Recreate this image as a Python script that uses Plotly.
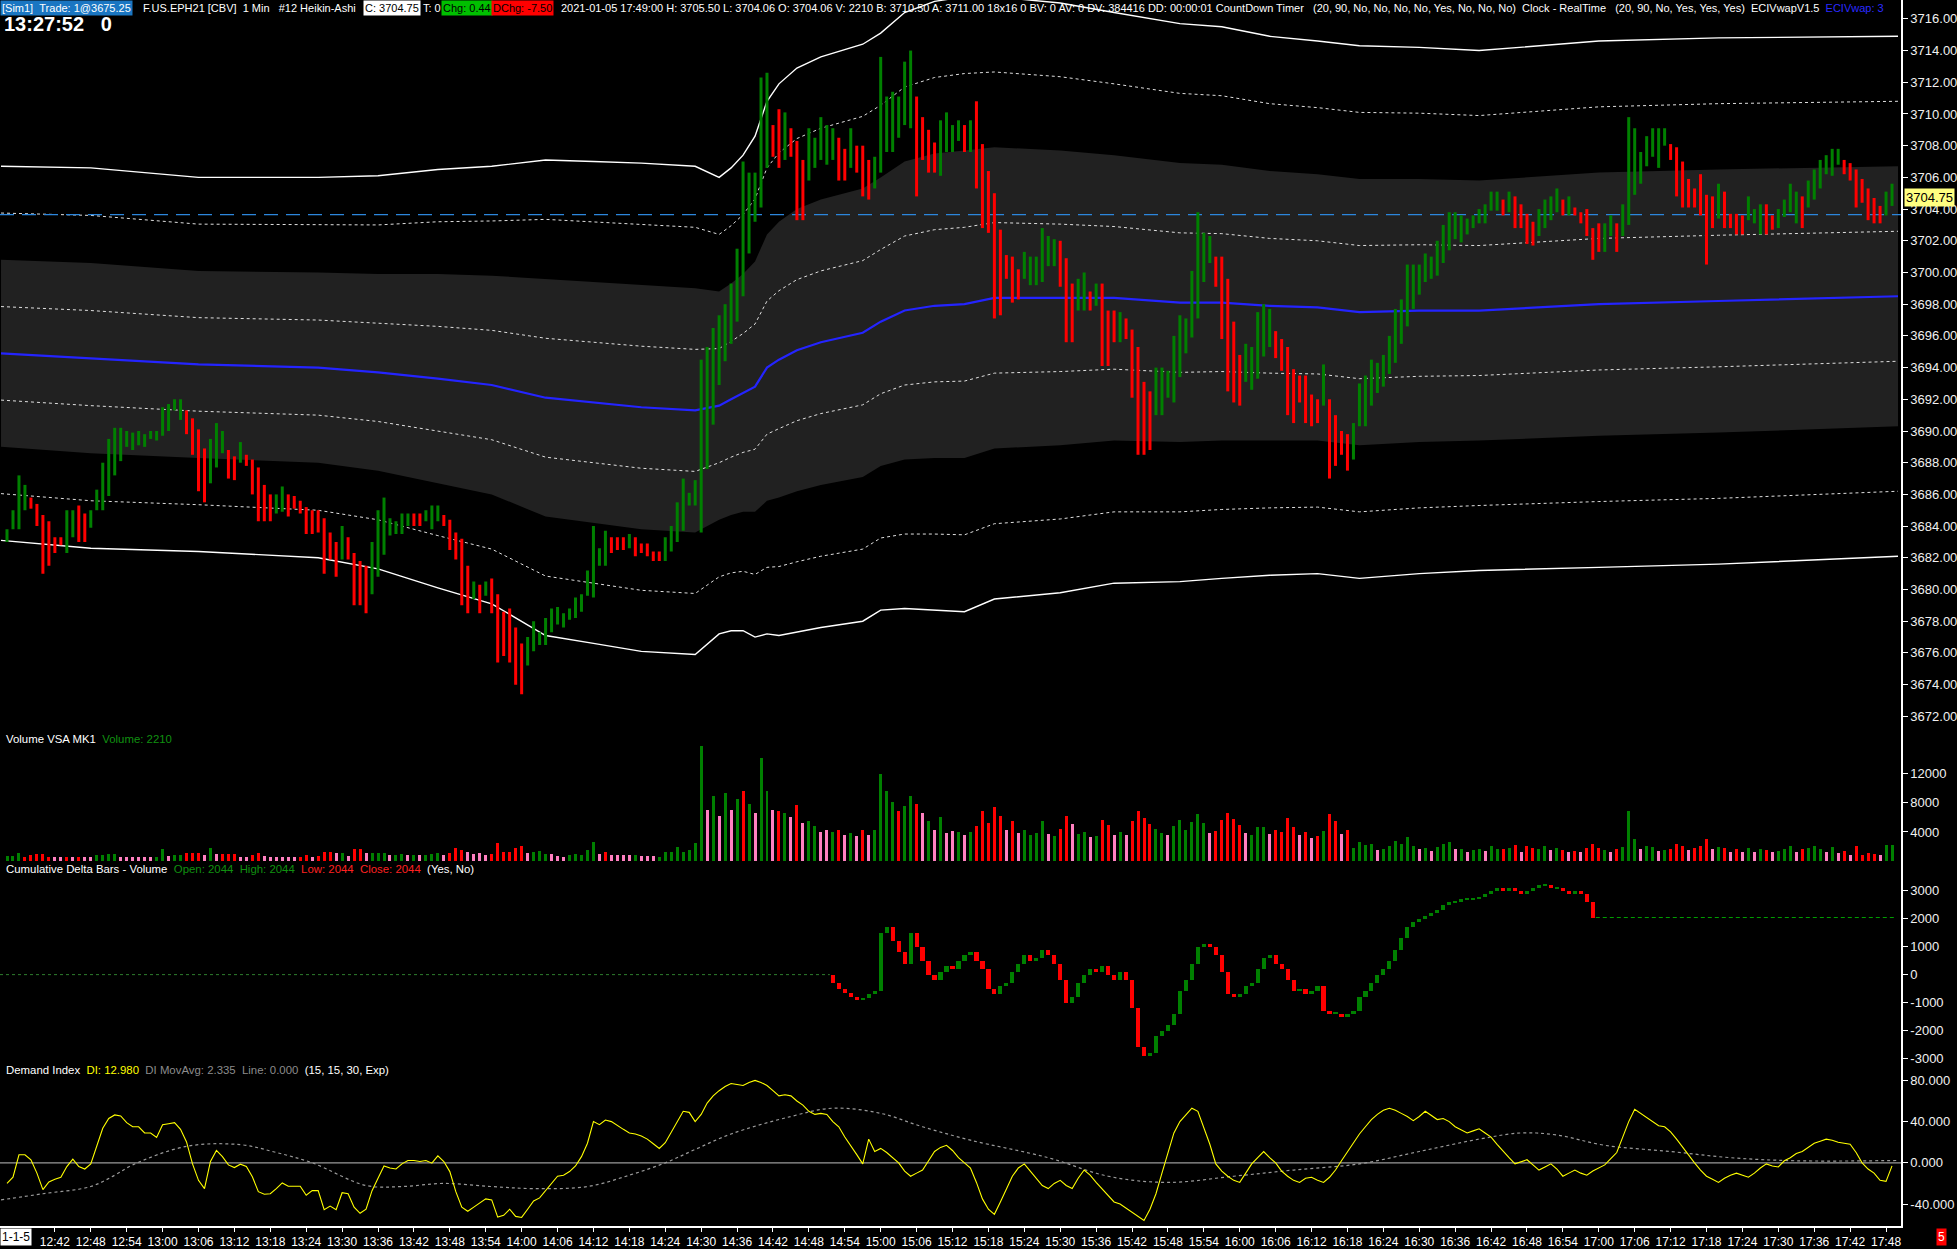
import plotly.graph_objects as go
from plotly.subplots import make_subplots

# ---------------- data ----------------
first_bar = "12:34"

price_high = [
3683.8,3685.0,3687.2,3686.6,3685.8,3685.4,3684.7,3684.3,3683.3,3683.3,
3685.0,3685.0,3685.3,3684.8,3685.0,3686.3,3688.0,3689.5,3690.2,3690.2,
3690.0,3689.9,3690.0,3689.8,3690.0,3690.0,3691.5,3691.7,3692.0,3692.0,
3691.3,3690.8,3690.1,3688.9,3689.5,3690.5,3690.0,3688.8,3688.4,3689.3,
3688.5,3688.2,3687.7,3686.6,3686.0,3686.0,3686.5,3686.0,3685.9,3685.6,
3685.2,3685.0,3685.0,3684.5,3683.6,3683.0,3684.0,3683.3,3682.3,3681.8,
3681.5,3683.0,3685.0,3685.8,3684.5,3684.3,3684.8,3684.8,3684.8,3684.8,
3685.0,3685.3,3685.3,3684.7,3684.4,3683.6,3683.2,3681.5,3680.5,3680.3,
3680.5,3680.7,3679.7,3678.6,3678.8,3677.6,3676.6,3677.0,3678.0,3677.3,
3678.2,3678.8,3678.9,3678.5,3678.8,3679.5,3679.7,3681.2,3684.0,3682.6,
3683.7,3683.3,3683.3,3683.3,3683.5,3683.3,3682.9,3682.9,3682.4,3682.4,
3683.3,3684.0,3685.5,3687.0,3686.1,3686.9,3694.5,3695.3,3696.5,3697.3,
3698.0,3699.3,3701.5,3707.0,3706.3,3706.3,3712.3,3712.6,3709.3,3710.3,
3710.1,3709.1,3708.3,3707.1,3709.1,3708.5,3709.8,3709.3,3709.1,3708.5,
3707.8,3709.1,3708.0,3708.0,3707.1,3707.3,3713.6,3711.1,3711.4,3711.1,
3713.3,3714.0,3711.1,3709.8,3709.0,3708.2,3709.6,3710.1,3709.3,3709.6,
3709.3,3709.6,3710.8,3708.1,3706.4,3705.0,3702.7,3701.1,3701.0,3700.2,
3701.3,3701.0,3701.0,3702.8,3702.3,3702.1,3702.0,3700.9,3699.3,3699.6,
3700.0,3698.8,3699.3,3699.3,3697.6,3697.6,3697.5,3697.1,3696.4,3695.3,
3693.1,3692.5,3694.0,3694.0,3693.8,3696.0,3697.3,3697.1,3700.1,3703.8,
3702.5,3702.3,3701.0,3701.0,3699.6,3696.9,3694.8,3695.5,3695.3,3697.5,
3698.0,3697.7,3696.3,3695.8,3695.3,3693.9,3693.5,3693.5,3692.3,3692.0,
3694.2,3692.0,3691.0,3690.0,3689.8,3690.5,3693.0,3693.5,3694.5,3694.3,
3694.8,3696.0,3697.7,3698.3,3700.5,3700.5,3700.5,3701.2,3701.0,3702.0,
3703.0,3703.8,3703.8,3703.6,3703.4,3703.6,3704.0,3704.3,3705.1,3705.1,
3704.6,3705.1,3704.8,3704.3,3703.7,3703.2,3704.0,3704.6,3704.8,3705.3,
3704.6,3704.8,3704.1,3703.8,3704.0,3702.8,3703.1,3703.1,3703.6,3703.1,
3704.3,3709.8,3709.1,3707.6,3708.6,3709.1,3709.1,3709.1,3708.1,3707.9,
3707.0,3705.9,3705.3,3706.2,3704.9,3704.8,3705.6,3705.1,3703.7,3703.7,
3703.6,3704.8,3704.0,3704.3,3704.3,3703.6,3704.0,3704.6,3705.6,3705.1,
3704.8,3705.8,3706.5,3707.1,3707.4,3707.8,3707.8,3707.1,3706.9,3706.5,
3705.9,3705.3,3704.7,3704.2,3705.1,3705.6]

price_low = [
3683.0,3683.8,3683.8,3685.0,3685.1,3684.0,3681.0,3681.5,3682.3,3682.8,
3682.3,3683.3,3683.0,3683.0,3683.9,3685.0,3685.0,3685.9,3687.2,3688.1,
3689.0,3688.8,3689.1,3689.0,3689.5,3689.4,3689.7,3690.0,3691.3,3690.7,
3689.8,3688.5,3686.2,3685.5,3686.7,3687.7,3688.6,3687.0,3686.9,3688.0,
3687.8,3686.0,3684.3,3684.3,3684.3,3684.8,3684.9,3684.6,3685.1,3684.8,
3683.5,3683.5,3683.6,3681.0,3681.9,3680.8,3681.9,3681.9,3679.0,3679.0,
3678.5,3679.7,3680.8,3682.2,3683.4,3683.5,3683.5,3684.0,3684.0,3684.0,
3684.3,3683.8,3684.3,3684.0,3682.5,3681.9,3679.0,3678.5,3679.4,3678.5,
3679.6,3678.5,3675.4,3675.8,3675.4,3674.0,3673.4,3675.2,3676.1,3676.5,
3676.5,3677.3,3677.8,3677.6,3678.1,3678.2,3678.6,3679.6,3679.5,3681.5,
3681.5,3682.3,3682.5,3682.5,3682.6,3682.1,3682.3,3682.1,3681.8,3681.8,
3681.8,3682.4,3683.0,3683.7,3685.3,3685.3,3683.6,3687.6,3690.4,3692.9,
3694.4,3695.5,3696.9,3698.5,3701.2,3703.2,3704.1,3706.6,3707.3,3706.6,
3707.1,3707.3,3703.3,3703.3,3705.8,3706.6,3707.1,3706.8,3707.1,3705.8,
3705.8,3706.6,3706.3,3704.8,3704.6,3705.3,3706.3,3707.6,3707.6,3708.5,
3709.3,3709.1,3704.8,3707.1,3706.3,3706.3,3706.1,3707.6,3707.6,3708.3,
3707.6,3707.6,3705.3,3702.8,3702.5,3697.1,3697.3,3699.6,3698.1,3698.3,
3699.6,3699.2,3699.2,3699.4,3700.4,3700.4,3699.1,3695.6,3695.6,3697.6,
3697.6,3697.6,3697.9,3694.1,3694.1,3695.6,3695.6,3695.8,3692.1,3688.5,
3688.5,3688.8,3691.0,3691.0,3692.1,3691.8,3693.4,3694.9,3695.9,3697.1,
3699.4,3700.6,3699.1,3695.8,3692.5,3691.8,3691.6,3693.1,3692.6,3693.3,
3694.7,3695.3,3694.6,3693.8,3691.0,3690.5,3691.8,3690.5,3690.3,3690.5,
3691.6,3687.0,3687.8,3688.5,3687.5,3688.2,3690.3,3690.3,3691.6,3692.4,
3692.8,3693.6,3694.3,3695.5,3696.6,3697.7,3698.6,3699.4,3699.6,3699.8,
3700.6,3701.4,3702.1,3701.9,3702.4,3702.8,3703.1,3703.1,3703.9,3703.9,
3703.6,3703.8,3702.8,3702.8,3701.8,3701.7,3702.3,3702.8,3703.3,3703.8,
3703.6,3703.6,3703.6,3703.1,3702.3,3700.8,3701.3,3701.3,3702.3,3701.3,
3702.3,3703.0,3704.9,3705.6,3706.7,3707.3,3706.6,3708.0,3707.1,3704.8,
3704.1,3704.1,3704.1,3703.6,3700.5,3702.8,3703.4,3702.8,3702.8,3702.4,
3702.4,3703.3,3703.1,3702.4,3702.4,3702.7,3702.8,3703.5,3703.8,3703.1,
3702.8,3704.1,3704.6,3705.3,3706.2,3706.1,3706.8,3706.2,3705.8,3704.1,
3704.4,3703.3,3703.1,3703.1,3703.6,3704.2]

price_dir = ("GGGGRRRRRR" "GGRRGGGGGG" "GGGGGGGGGG" "RRRRGGGRRG" "RRRRRGGRRR"
             "RRRRRRGRRR" "RGGGGGGGRR" "GGGRRRRRGR" "GRRRRRRGGG" "GGGGGGGGGG"
             "GRRRGRRRRR" "GGGGGGGGGG" "GGGGGGGGRR" "GRRRGGGGGR" "RGRRRGGGGG"
             "GGRRRRGGGG" "RGRRRRRRRR" "GGGGGGRRRG" "GRGRRRGRRR" "RRGGGGGGGG"
             "GGRRRRRGGG" "GGRRRRRRRR" "GRRRRGGGGG" "GGGGGGGGGG" "GGGGGGGGGG"
             "RGRRRRGGGG" "RGRRRRRGGR" "GGGGGGGGRR" "RRRRRRGRRR" "RGGGRRGGGG"
             "RGGGGGGRRR" "RRRRGG")

volume = [
770,770,1130,630,860,950,950,630,500,500,
630,630,630,500,630,860,860,950,950,630,
630,630,630,630,630,630,1630,770,860,860,
1080,1130,1130,860,1760,950,950,950,950,630,
630,860,1080,770,630,630,630,500,540,630,
860,540,720,1310,1270,1080,1080,720,1630,1630,
1080,1130,1130,1130,860,860,950,860,860,860,
860,1040,1130,860,1130,1760,1540,1220,950,1080,
860,950,2440,1220,1270,1760,2130,1080,1220,1450,
950,950,720,630,860,950,860,1540,2580,1040,
1220,860,860,860,860,860,720,720,720,630,
1220,1310,1990,1310,1500,2500,15700,7000,8800,6200,
9200,7000,8500,9600,7800,6500,14000,9500,7000,6800,
6500,6000,7600,5200,5500,4800,4000,4200,3900,4300,
3600,3800,3400,4200,3500,4200,11800,9600,8000,6800,
7500,8800,7800,6500,5500,4300,6000,3800,4100,3900,
3600,3900,4800,6800,5200,7400,6200,4200,5400,3800,
4300,3600,3800,5500,3700,3400,4400,6200,5100,3700,
3900,3300,3400,5600,4900,3600,3900,3500,5400,6800,
5900,5100,4400,3800,3500,4800,5600,4200,5300,6400,
5200,3800,4100,5600,6600,5700,4900,3800,3600,4700,
4600,3700,4300,4000,5800,4600,3500,3900,3200,3400,
4100,6400,5500,3700,4300,1800,2600,2200,2300,1500,
1700,2000,2800,2300,3300,2000,1600,1800,1400,1900,
2400,2600,1600,1700,1300,1500,1700,1400,2000,1700,
1600,1800,2200,1300,2000,1800,1700,2000,1500,1800,
1500,1300,1400,1200,1800,2400,1800,1500,1200,1600,
1900,6800,3000,1600,2100,1900,1400,1500,1700,2400,
2100,1500,1800,2000,3000,1600,1900,1800,1300,1700,
1200,1800,1200,1600,1500,1200,1400,1600,2000,1300,
1600,1800,2100,1700,1200,1900,1100,1400,900,2000,
900,1100,1000,900,2200,2210]

volume_dir = ("GGGRRRRRPP" "RPRPPGGGGP" "PPPPPGGPGG" "RRRPGPRRRP" "PRRPPPPPPR"
              "RPRRRPGPRR" "PGGGPGGPGP" "GGGPRRRPPP" "PRRRRRRPGG" "GPPPGGGGGP"
              "RPPPPGPPPG" "GGGGGGGPGP" "GPGRGPGGPR" "GPRPGGPPGR" "PGPRPGGGGR"
              "GGRPGPGPPG" "PGRRRRRPRP" "GGGGPGRRPG" "GPGRRPGPRR" "RRGGPGGGGG"
              "GPRRRRRPGG" "GPRRRRPRPR" "GRRPRGGGGP" "GGGGGGPGPG" "GGPGPGGPGG"
              "RGRPRRGGPG" "RPRPRRRGPR" "GGGPGGPGRR" "RPRRRPGRPR" "PGPGRPGGGP"
              "RGGGPGPRPR" "RRRPGG")

demand_index = [
-20,-14,7.8,7.8,2.9,-10,-26,-18.5,-16,-14,
-3.6,3.6,-3.6,-6,-1,16,33.5,43,46.5,45.5,
39,35,35,29,29,24.7,37,38,39,32.5,
20.3,-1,-17,-25,1.3,12,6,-2,-4.6,-1.3,
-3.6,-13.5,-28,-30.5,-30,-25,-19.5,-22.7,-22.7,-22.7,
-31.5,-27,-27,-45.5,-42,-45.5,-29,-30,-43,-49,
-45,-27,-15,-3,-5,-6,-1,2.3,2.3,1.3,
2.3,-0.3,6.8,1.3,-8.5,-28,-43,-47,-43,-39,
-35,-36,-52.7,-51,-45,-52,-53,-45,-37,-34,
-27,-21,-13,-12,-8.5,-3,6,19,40,37,
41.5,40,36,32.5,29,28,26,23,18.5,14,
19.5,30,41,50,49,40,47,58,65,70,
74,77,76,75,78,80,78,75,70,65,
66,65,60,56,50,47,48,47,40,35,
25,17,8,-1,23,11,14,10,5,0,
-8,-13,-10,-7,2,11,15,17,12,5,
0,-5,-19,-35,-45,-50,-38,-25,-13,-5,
-1,-8,-15,-22,-25,-20,-17,-22,-25,-15,
-7,-12,-19,-25,-31,-38,-40,-44,-48,-52,
-56,-45,-30,-10,10,29,40,47,53,50,
35,18,-1,-8,-13,-17,-19,-10,-1,5,
11,5,0,-8,-13,-17,-19,-15,-14,-17,
-19,-14,-7,2,11,20,28,35,42,47,
51,53,51,48,45,41,45,50,46,42,
43,40,35,32,29,31,33,29,25,18,
11,5,-1,1,3,-2,-7,-4,-1,-6,
-13,-10,-7,-10,-12,-8,-5,-2,4,10,
25,40,52,48,44,40,36,35,30,23,
15,8,0,-7,-13,-16,-19,-15,-12,-10,
-12,-14,-10,-5,-1,-3,-4,2,5,9,
11,15,19,21,23,22,20,19,18,10,
0,-6,-10,-17,-18,-3,13]

di_avg_times = ["12:33","12:40","12:48","12:52","12:55","13:04","13:13","13:19","13:25",
                "13:34","13:40","13:47","13:55","14:02","14:11","14:18","14:24","14:29",
                "14:35","14:45","14:52","15:00","15:07","15:15","15:28","15:38","15:48",
                "15:59","16:09","16:20","16:30","16:40","16:47","16:53","17:01","17:12",
                "17:22","17:33","17:50"]
di_avg_values = [-36,-30,-23,-12,-2,16,17.6,10,0,-22,-23,-20,-23,-25,-23,-12,0,13,
                 28,45,53,48,35,22,5,-13,-19,-13,-7,-1,11,23,29,27,17,11,5,2,2.3]

cd_first_bar = "14:52"
cd_close = [
-300,-500,-650,-800,-900,-850,-700,-600,1500,1700,
1200,800,400,1500,1000,500,0,-200,100,300,
200,500,700,800,500,200,-500,-700,-400,-300,
100,400,700,500,600,900,700,400,-200,-1000,
-800,-300,0,200,100,300,0,-200,100,-200,
-1200,-2600,-2900,-2800,-2200,-2000,-1800,-1400,-600,-200,
400,1000,1100,1000,700,100,-700,-800,-700,-400,
-300,200,600,700,400,200,-200,-600,-500,-700,
-600,-400,-1300,-1400,-1400,-1500,-1400,-1300,-800,-600,
-300,0,200,500,900,1300,1700,1900,2000,2100,
2200,2300,2500,2600,2600,2700,2700,2700,2800,2900,
3000,3100,3000,3100,3000,2900,3000,3100,3200,3200,
3100,3100,3000,2900,3000,2900,2600,2044]
cd_last = 2044

band_times = ["12:33","12:48","13:06","13:26","13:36","13:46","13:55","14:04","14:12",
              "14:20","14:29","14:33","14:35","14:37","14:39","14:41","14:43","14:46",
              "14:50","14:57","15:00","15:04","15:09","15:14","15:19","15:30","15:39",
              "15:50","15:57","16:05","16:13","16:20","16:30","16:40","17:00","17:20","17:50"]
vwap_values = [3694.9,3694.6,3694.2,3694.0,3693.7,3693.3,3692.9,3692.1,3691.8,
               3691.5,3691.3,3691.6,3692.0,3692.4,3692.8,3694.0,3694.5,3695.1,
               3695.6,3696.2,3696.9,3697.6,3697.9,3698.0,3698.4,3698.4,3698.4,
               3698.1,3698.1,3697.9,3697.8,3697.5,3697.6,3697.6,3698.0,3698.2,3698.5]
sigma_values = [2.95,3.0,2.95,3.0,3.1,3.3,3.45,3.75,3.8,
                3.85,3.85,3.6,3.65,3.75,3.95,4.2,4.35,4.45,
                4.5,4.55,4.55,4.7,4.8,4.85,4.75,4.65,4.5,
                4.4,4.35,4.25,4.2,4.2,4.15,4.1,4.15,4.15,4.1]
ref_price = 3703.65
last_price = 3704.75

price_ticks = [3672,3674,3676,3678,3680,3682,3684,3686,3688,3690,3692,3694,3696,
               3698,3700,3702,3704,3706,3708,3710,3712,3714,3716]
vol_ticks = [4000, 8000, 12000]
cd_ticks = [-3000, -2000, -1000, 0, 1000, 2000, 3000]
di_ticks = [-40, 0, 40, 80]
time_labels = ["12:42","12:48","12:54","13:00","13:06","13:12","13:18","13:24","13:30",
               "13:36","13:42","13:48","13:54","14:00","14:06","14:12","14:18","14:24",
               "14:30","14:36","14:42","14:48","14:54","15:00","15:06","15:12","15:18",
               "15:24","15:30","15:36","15:42","15:48","15:54","16:00","16:06","16:12",
               "16:18","16:24","16:30","16:36","16:42","16:48","16:54","17:00","17:06",
               "17:12","17:18","17:24","17:30","17:36","17:42","17:48"]

# ---------------- helpers ----------------
def mins(s):
    h, m = s.split(":")
    return int(h) * 60 + int(m)

W, H = 1957, 1249
ML, MR, MT, MB = 0, 51, 0, 20
PW, PH = W - ML - MR, H - MT - MB
def pyf(y):
    return 1 - y / PH
def pxf(x):
    return x / PW

FONT = "Liberation Sans, Arial, sans-serif"
GREEN, RED, PINK = "#008000", "#ff0000", "#ff80c0"
XR = [752.83, 1070.5]

x0 = mins(first_bar)
bars_x = [x0 + i for i in range(len(price_high))]

fig = make_subplots(rows=4, cols=1, shared_xaxes=True, vertical_spacing=0)

# ---- price panel: VWAP bands ----
bx = [mins(t) for t in band_times]
def band(k):
    return [v + k * s for v, s in zip(vwap_values, sigma_values)]

fig.add_trace(go.Scatter(x=bx, y=band(2), mode="lines", line=dict(width=0, color="#212121"),
                         hoverinfo="skip", showlegend=False), row=1, col=1)
fig.add_trace(go.Scatter(x=bx, y=band(-2), mode="lines", line=dict(width=0, color="#212121"),
                         fill="tonexty", fillcolor="#212121", hoverinfo="skip", showlegend=False),
              row=1, col=1)
for k in (1, -1, 3, -3):
    fig.add_trace(go.Scatter(x=bx, y=band(k), mode="lines",
                             line=dict(width=1, color="#e0e0e0", dash="3px,3px"),
                             hoverinfo="skip", showlegend=False), row=1, col=1)
for k in (4, -4):
    fig.add_trace(go.Scatter(x=bx, y=band(k), mode="lines",
                             line=dict(width=1.4, color="#ffffff"),
                             hoverinfo="skip", showlegend=False), row=1, col=1)
fig.add_trace(go.Scatter(x=XR, y=[ref_price, ref_price], mode="lines",
                         line=dict(width=1.3, color="#2c86dc", dash="14px,8px"),
                         hoverinfo="skip", showlegend=False), row=1, col=1)
fig.add_trace(go.Scatter(x=bx, y=vwap_values, mode="lines",
                         line=dict(width=2.2, color="#2424ff"),
                         hoverinfo="skip", showlegend=False), row=1, col=1)

# ---- price bars (Heikin-Ashi ranges) ----
for code, col in (("G", GREEN), ("R", RED)):
    xs, ys = [], []
    for x, h, l, d in zip(bars_x, price_high, price_low, price_dir):
        if d == code:
            xs += [x, x, None]
            ys += [l, h, None]
    fig.add_trace(go.Scatter(x=xs, y=ys, mode="lines", line=dict(width=3, color=col),
                             hoverinfo="skip", showlegend=False), row=1, col=1)

# ---- volume ----
vcol = {"G": GREEN, "R": RED, "P": PINK}
fig.add_trace(go.Bar(x=bars_x, y=volume, width=0.5,
                     marker=dict(color=[vcol[c] for c in volume_dir], line=dict(width=0)),
                     hoverinfo="skip", showlegend=False), row=2, col=1)

# ---- cumulative delta ----
cx0 = mins(cd_first_bar)
cd_x = [cx0 + i for i in range(len(cd_close))]
cd_open = [0] + cd_close[:-1]
cd_base, cd_h, cd_c = [], [], []
for o, c in zip(cd_open, cd_close):
    lo, hi = min(o, c), max(o, c)
    if hi - lo < 40:
        hi = lo + 40
    cd_base.append(lo)
    cd_h.append(hi - lo)
    cd_c.append(GREEN if c >= o else RED)
fig.add_trace(go.Bar(x=cd_x, y=cd_h, base=cd_base, width=0.7,
                     marker=dict(color=cd_c, line=dict(width=0)),
                     hoverinfo="skip", showlegend=False), row=3, col=1)
fig.add_trace(go.Scatter(x=[XR[0], cx0 - 0.5], y=[0, 0], mode="lines",
                         line=dict(width=1, color="#2e7d2e", dash="3px,3px"),
                         hoverinfo="skip", showlegend=False), row=3, col=1)
fig.add_trace(go.Scatter(x=[cd_x[-1] + 0.5, bars_x[-1] + 0.5], y=[cd_last, cd_last], mode="lines",
                         line=dict(width=1, color="#00a000", dash="4px,3px"),
                         hoverinfo="skip", showlegend=False), row=3, col=1)

# ---- demand index ----
fig.add_trace(go.Scatter(x=XR, y=[0, 0], mode="lines", line=dict(width=1.2, color="#9a9a9a"),
                         hoverinfo="skip", showlegend=False), row=4, col=1)
fig.add_trace(go.Scatter(x=[mins(t) for t in di_avg_times], y=di_avg_values, mode="lines",
                         line=dict(width=1.2, color="#9a9a9a", dash="3px,3px", shape="spline"),
                         hoverinfo="skip", showlegend=False), row=4, col=1)
fig.add_trace(go.Scatter(x=bars_x, y=demand_index, mode="lines",
                         line=dict(width=1.1, color="#ffff00"),
                         hoverinfo="skip", showlegend=False), row=4, col=1)

# ---------------- axes ----------------
doms = {1: [pyf(730), 1.0], 2: [pyf(866), pyf(730)], 3: [pyf(1063), pyf(866)], 4: [0.0, pyf(1063)]}
ranges = {1: [3671.25, 3717.19], 2: [-340, 18100], 3: [-3071, 3964], 4: [-61.3, 99.4]}
tv = {1: price_ticks, 2: vol_ticks, 3: cd_ticks, 4: di_ticks}
tt = {1: ["%.2f" % v for v in price_ticks], 2: [str(v) for v in vol_ticks],
      3: [str(v) for v in cd_ticks], 4: ["%.3f" % v for v in di_ticks]}
for r in range(1, 5):
    fig.update_yaxes(row=r, col=1, domain=doms[r], range=ranges[r], side="right",
                     tickmode="array", tickvals=tv[r], ticktext=tt[r],
                     showgrid=False, zeroline=False, showline=True, linecolor="#ffffff",
                     linewidth=1.5, ticks="outside", ticklen=5, tickcolor="#ffffff",
                     tickfont=dict(family=FONT, size=13, color="#f0f0f0"), fixedrange=True)
    fig.update_xaxes(row=r, col=1, range=XR, showgrid=False, zeroline=False,
                     showticklabels=False, ticks="", showline=False)

tick_x = [mins(t) for t in time_labels]
fig.update_xaxes(row=4, col=1, showticklabels=True, tickmode="array", tickvals=tick_x,
                 ticktext=time_labels, ticks="outside", ticklen=4, tickcolor="#ffffff",
                 showline=True, linecolor="#ffffff", linewidth=1.5,
                 tickfont=dict(family=FONT, size=12, color="#ffffff"))

# ---------------- text ----------------
ann = []
def text(x, y, s, color="#ffffff", size=11, bg=None, bold=False, xanchor="left"):
    d = dict(x=pxf(x), y=pyf(y), xref="paper", yref="paper", text=("<b>%s</b>" % s) if bold else s,
             showarrow=False, xanchor=xanchor, yanchor="middle",
             font=dict(family=FONT, size=size, color=color), borderpad=1)
    if bg:
        d["bgcolor"] = bg
    ann.append(d)

hy = 8
S2 = "&nbsp;&nbsp;"
S3 = "&nbsp;&nbsp;&nbsp;"
text(0, hy, "[Sim1]" + S2 + "Trade: 1@3675.25", bg="#1a76c2")
text(141, hy, "F.US.EPH21 [CBV]" + S2 + "1 Min" + S3 + "#12 Heikin-Ashi")
text(364, hy, "C: 3704.75", color="#000000", bg="#ffffff")
text(422, hy, "T: 0")
text(442, hy, "Chg: 0.44", color="#000000", bg="#00c000")
text(492, hy, "DChg: -7.50", color="#000000", bg="#ff0000")
text(560, hy, "2021-01-05 17:49:00 H: 3705.50 L: 3704.06 O: 3704.06 V: 2210 B: 3710.50 "
              "A: 3711.00 18x16 0 BV: 0 AV: 0 DV: 384416 DD: 00:00:01 CountDown Timer" + S3 +
              "(20, 90, No, No, No, No, Yes, No, No, No)" + S2 + "Clock - RealTime" + S3 +
              "(20, 90, No, Yes, Yes, Yes)" + S2 + "ECIVwapV1.5" + S2 +
              "<span style='color:#2a2aff'>ECIVwap: 3</span>")
text(2, 24, "13:27:52" + S3 + "0", size=20, bold=True)

TS = 11.4
text(4, 741, "Volume VSA MK1" + S2 + "<span style='color:#109010'>Volume: 2210</span>", size=TS)
text(4, 871, "Cumulative Delta Bars - Volume" + S2 +
     "<span style='color:#109010'>Open: 2044" + S2 + "High: 2044</span>" + S2 +
     "<span style='color:#ff2020'>Low: 2044" + S2 + "Close: 2044</span>" + S2 + "(Yes, No)", size=TS)
text(4, 1073, "Demand Index" + S2 + "<span style='color:#ffff00'>DI: 12.980</span>" + S2 +
     "<span style='color:#8c8c8c'>DI MovAvg: 2.335" + S2 + "Line: 0.000</span>" + S2 +
     "(15, 15, 30, Exp)", size=TS)

# last price marker
ann.append(dict(x=pxf(1909), y=last_price, xref="paper", yref="y", text="3704.75",
                showarrow=False, xanchor="left", yanchor="middle", bgcolor="#ffff80",
                font=dict(family=FONT, size=13, color="#000000"), borderpad=1))
# date box and page marker
text(0, 1240, "1-1-5", color="#000000", bg="#ffffff", size=12)
text(1947, 1240, "5", color="#ffffff", bg="#ff0000", size=12, xanchor="center")

fig.update_layout(width=W, height=H, margin=dict(l=ML, r=MR, t=MT, b=MB),
                  paper_bgcolor="#000000", plot_bgcolor="#000000", barmode="overlay",
                  showlegend=False, annotations=ann, bargap=0,
                  font=dict(family=FONT, color="#ffffff"))

fig.write_html("out.html", config={"displayModeBar": False},
               post_script="document.body.style.margin='0';document.body.style.overflow='hidden';")
